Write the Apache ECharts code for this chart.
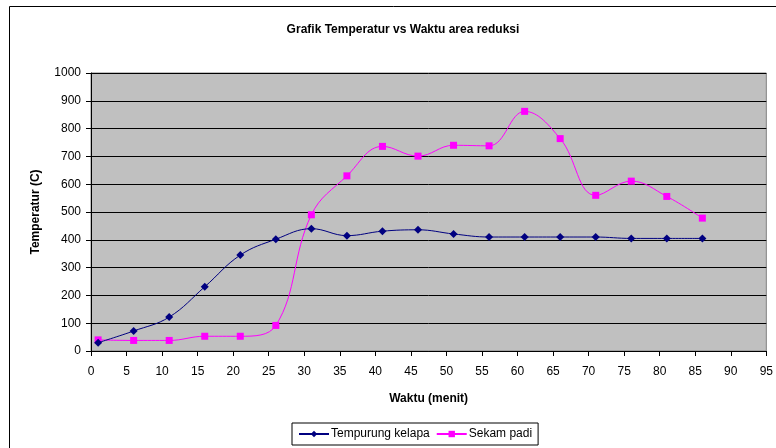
<!DOCTYPE html>
<html>
<head>
<meta charset="utf-8">
<script src="https://cdn.jsdelivr.net/npm/echarts@6/dist/echarts.min.js"></script>
<style>
html,body{margin:0;padding:0;background:#fff;}
#chart{width:776px;height:448px;}
</style>
</head>
<body>
<div id="chart"></div>
<script>
var waktu = [1, 6, 11, 16, 21, 26, 31, 36, 41, 46, 51, 56, 61, 66, 71, 76, 81, 86];
var tempurungKelapa = [30, 72, 122, 231, 345, 402, 440, 415, 431, 436, 421, 410, 410, 410, 410, 405, 405, 405];
var sekamPadi = [40, 38, 38, 53, 53, 92, 490, 630, 736, 701, 740, 738, 862, 764, 560, 611, 556, 478];
var yTicks = [0, 100, 200, 300, 400, 500, 600, 700, 800, 900, 1000];
var xTicks = [0, 5, 10, 15, 20, 25, 30, 35, 40, 45, 50, 55, 60, 65, 70, 75, 80, 85, 90, 95];

function pairs(xs, ys) { return xs.map(function (x, i) { return [x, ys[i]]; }); }

var chart = echarts.init(document.getElementById('chart'), null, {renderer: 'canvas'});
var font = 'Liberation Sans, Arial, sans-serif';
chart.setOption({
  animation: false,
  backgroundColor: '#fff',
  textStyle: {fontFamily: font},
  title: {
    text: 'Grafik Temperatur vs Waktu area reduksi',
    left: 398, top: 19, textAlign: 'center',
    textStyle: {fontFamily: font, fontSize: 12, fontWeight: 'bold', color: '#000'}
  },
  graphic: [{
    type: 'rect', silent: true, z: -10,
    shape: {x: 9.5, y: 6.5, width: 800, height: 500},
    style: {fill: 'none', stroke: '#000', lineWidth: 1}
  }],
  grid: {
    left: 91, right: 7, top: 73, bottom: 97,
    show: true, backgroundColor: '#C0C0C0', borderColor: '#808080', borderWidth: 1
  },
  legend: {
    left: 292, top: 423, width: 274, height: 23,
    padding: [5, 6, 5, 6],
    itemGap: 6,
    itemWidth: 30, itemHeight: 8,
    backgroundColor: '#fff', borderColor: '#000', borderWidth: 1,
    textStyle: {fontFamily: font, fontSize: 12, color: '#000', padding: [0, 0, 0, -3]},
    data: ['Tempurung kelapa', 'Sekam padi']
  },
  xAxis: {
    type: 'value', min: 0, max: 95, interval: 5,
    name: 'Waktu (menit)', nameLocation: 'middle', nameGap: 42,
    nameTextStyle: {fontFamily: font, fontSize: 12, fontWeight: 'bold', color: '#000'},
    axisLine: {onZero: false, lineStyle: {color: '#000', width: 1}},
    axisTick: {show: true, length: 5, inside: false, lineStyle: {color: '#000'}},
    axisLabel: {fontFamily: font, fontSize: 12, color: '#000', margin: 15,
      formatter: function (v) { return xTicks.indexOf(v) >= 0 ? String(v) : ''; }},
    splitLine: {show: false}
  },
  yAxis: {
    type: 'value', min: 0, max: 1000, interval: 100,
    name: 'Temperatur (C)', nameLocation: 'middle', nameGap: 49,
    nameTextStyle: {fontFamily: font, fontSize: 12, fontWeight: 'bold', color: '#000'},
    axisLine: {show: true, lineStyle: {color: '#000', width: 1}},
    axisTick: {show: true, length: 5, inside: false, lineStyle: {color: '#000'}},
    axisLabel: {fontFamily: font, fontSize: 12, color: '#000', margin: 10,
      formatter: function (v) { return yTicks.indexOf(v) >= 0 ? String(v) : ''; }},
    splitLine: {show: true, lineStyle: {color: '#000', width: 1}}
  },
  series: [{
    name: 'Tempurung kelapa', type: 'line', smooth: 0.4,
    data: pairs(waktu, tempurungKelapa),
    symbol: 'diamond', symbolSize: 8,
    lineStyle: {color: '#000080', width: 1},
    itemStyle: {color: '#000080'},
    z: 3
  }, {
    name: 'Sekam padi', type: 'line', smooth: 0.4,
    data: pairs(waktu, sekamPadi),
    symbol: 'rect', symbolSize: 7,
    lineStyle: {color: '#FF00FF', width: 1},
    itemStyle: {color: '#FF00FF'},
    z: 2
  }]
});
</script>
</body>
</html>
